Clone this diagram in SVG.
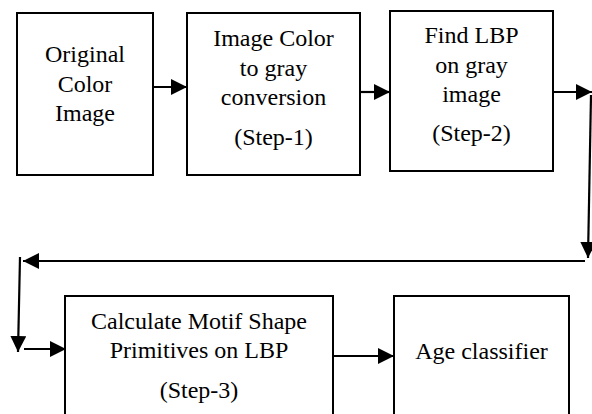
<svg xmlns="http://www.w3.org/2000/svg" width="592" height="414" viewBox="0 0 592 414">
<defs>
<style>
.box{fill:#fff;stroke:#000;stroke-width:2}
.t{font-size:24px;fill:#000;text-anchor:middle}
.c{fill:none;stroke:#000;stroke-width:2.2}
</style>
<marker id="ah" viewBox="0 0 16 16" refX="16" refY="8" markerWidth="16" markerHeight="16" markerUnits="userSpaceOnUse" orient="auto">
<path d="M0,0 L16,8 L0,16 Z" fill="#000"/>
</marker>
</defs>
<rect width="592" height="414" fill="#fff"/>
<g font-family="'Liberation Serif', 'Times New Roman', 'DejaVu Serif', serif">
<g id="n1">
<rect class="box" x="17" y="13" width="136" height="162"/>
<text class="t" x="85" y="62">Original</text>
<text class="t" x="85" y="92">Color</text>
<text class="t" x="85" y="121">Image</text>
</g>
<g id="n2">
<rect class="box" x="187" y="13" width="173" height="162"/>
<text class="t" x="273.5" y="46">Image Color</text>
<text class="t" x="273.5" y="76">to gray</text>
<text class="t" x="273.5" y="105">conversion</text>
<text class="t" x="273.5" y="145">(Step-1)</text>
</g>
<g id="n3">
<rect class="box" x="390" y="11" width="163" height="160"/>
<text class="t" x="471.5" y="43">Find LBP</text>
<text class="t" x="471.5" y="73">on gray</text>
<text class="t" x="471.5" y="102">image</text>
<text class="t" x="471.5" y="141">(Step-2)</text>
</g>
<g id="n4">
<rect class="box" x="65" y="296" width="268" height="130"/>
<text class="t" x="199" y="329">Calculate Motif Shape</text>
<text class="t" x="199" y="358">Primitives on LBP</text>
<text class="t" x="199" y="398">(Step-3)</text>
</g>
<g id="n5">
<rect class="box" x="394" y="296" width="175" height="130"/>
<text class="t" x="481.5" y="359">Age classifier</text>
</g>
</g>
<g id="connectors">
<line class="c" x1="153" y1="87" x2="187" y2="87" marker-end="url(#ah)"/>
<line class="c" x1="360" y1="92" x2="390" y2="92" marker-end="url(#ah)"/>
<line class="c" x1="553" y1="92" x2="592" y2="92" marker-end="url(#ah)"/>
<line class="c" x1="591" y1="95" x2="588" y2="258" marker-end="url(#ah)"/>
<line class="c" x1="585" y1="261" x2="23" y2="261" marker-end="url(#ah)"/>
<line class="c" x1="20" y1="257" x2="18" y2="352" marker-end="url(#ah)"/>
<line class="c" x1="24" y1="349" x2="66" y2="349" marker-end="url(#ah)"/>
<line class="c" x1="333" y1="356" x2="394" y2="356" marker-end="url(#ah)"/>
</g>
</svg>
